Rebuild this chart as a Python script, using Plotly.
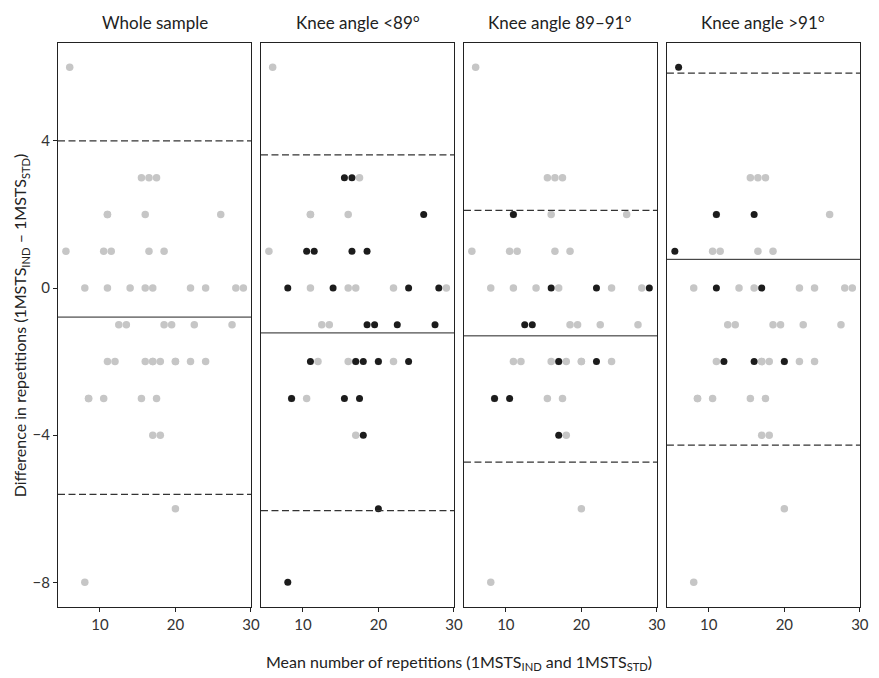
import plotly.graph_objects as go

# ---- data ----
mean_reps = [6, 15.5, 16.5, 17.5, 11, 11, 16, 26, 5.5, 10.5, 11.5, 16.5, 18.5,
             8, 11, 14, 16, 17, 22, 24, 28, 29,
             12.5, 13.5, 18.5, 19.5, 22.5, 27.5,
             11, 12, 16, 17, 17, 18, 20, 20, 22, 24,
             8.5, 8.5, 10.5, 15.5, 17.5,
             17, 18, 20, 8]
diff_reps = [6, 3, 3, 3, 2, 2, 2, 2, 1, 1, 1, 1, 1,
             0, 0, 0, 0, 0, 0, 0, 0, 0,
             -1, -1, -1, -1, -1, -1,
             -2, -2, -2, -2, -2, -2, -2, -2, -2, -2,
             -3, -3, -3, -3, -3,
             -4, -4, -6, -8]
knee_group = ["gt91", "lt89", "lt89", "none", "mid", "gt91", "gt91", "lt89", "gt91", "lt89", "lt89", "lt89", "lt89",
              "lt89", "gt91", "lt89", "mid", "gt91", "mid", "lt89", "lt89", "mid",
              "mid", "mid", "lt89", "lt89", "lt89", "lt89",
              "lt89", "gt91", "gt91", "lt89", "mid", "lt89", "lt89", "gt91", "mid", "lt89",
              "lt89", "mid", "mid", "lt89", "lt89",
              "mid", "lt89", "lt89", "lt89"]

panel_keys = ["all", "lt89", "mid", "gt91"]
panel_titles = ["Whole sample", "Knee angle <89°", "Knee angle 89–91°", "Knee angle >91°"]
bias_line = [-0.79, -1.22, -1.30, 0.78]
upper_loa = [4.0, 3.62, 2.11, 5.84]
lower_loa = [-5.61, -6.05, -4.73, -4.27]

x_ticks = [10, 20, 30]
y_ticks = [4, 0, -4, -8]

# ---- figure ----
# page body has an 8px margin, so the figure is shifted; compensate
OFF = 8
W, H = 879 - OFF, 678 - OFF
L, R, T, B = 58 - OFF, 10, 43 - OFF, 71
plot_w = W - L - R
gap = 10 / plot_w
pw = (1 - 3 * gap) / 4

GREY = "#c6c6c6"
BLACK = "#1c1c1c"
FONT = "Lato"

fig = go.Figure()
layout = {}
for i, key in enumerate(panel_keys):
    xa = "x" if i == 0 else f"x{i+1}"
    ya = "y" if i == 0 else f"y{i+1}"
    if key == "all":
        gx, gy = mean_reps, diff_reps
        bx, by = [], []
    else:
        gx = [x for x, g in zip(mean_reps, knee_group) if g != key]
        gy = [y for y, g in zip(diff_reps, knee_group) if g != key]
        bx = [x for x, g in zip(mean_reps, knee_group) if g == key]
        by = [y for y, g in zip(diff_reps, knee_group) if g == key]
    fig.add_trace(go.Scatter(x=gx, y=gy, mode="markers", xaxis=xa, yaxis=ya,
                             marker=dict(color=GREY, size=7.5, line=dict(width=0)),
                             showlegend=False, hoverinfo="skip"))
    if bx:
        fig.add_trace(go.Scatter(x=bx, y=by, mode="markers", xaxis=xa, yaxis=ya,
                                 marker=dict(color=BLACK, size=7, line=dict(width=0)),
                                 showlegend=False, hoverinfo="skip"))
    d0 = i * (pw + gap)
    d1 = d0 + pw if i < 3 else 1.0
    axis_common = dict(showline=True, mirror=True, linecolor="#222", linewidth=1,
                       showgrid=False, zeroline=False, ticks="outside", ticklen=4,
                       tickcolor="#222", tickfont=dict(family=FONT, size=15, color="#333"))
    layout["xaxis" if i == 0 else f"xaxis{i+1}"] = dict(
        domain=[d0, d1], range=[4.45, 30.02], tickvals=x_ticks, anchor=ya, **axis_common)
    yax = dict(domain=[0, 1], range=[-8.67, 6.66], tickvals=y_ticks, anchor=xa, **axis_common)
    if i > 0:
        yax["showticklabels"] = False
        yax["ticks"] = ""
    layout["yaxis" if i == 0 else f"yaxis{i+1}"] = yax

    xd = xa + " domain"
    fig.add_shape(type="line", xref=xd, yref=ya, x0=0, x1=1, y0=bias_line[i], y1=bias_line[i],
                  line=dict(color="#222", width=1))
    for v in (upper_loa[i], lower_loa[i]):
        fig.add_shape(type="line", xref=xd, yref=ya, x0=0, x1=1, y0=v, y1=v,
                      line=dict(color="#333", width=1.2, dash="7px,3.5px"))
    fig.add_annotation(text=panel_titles[i], xref="paper", yref="paper",
                       x=(d0 + d1) / 2, y=1.036, xanchor="center", yanchor="middle",
                       showarrow=False, font=dict(family=FONT, size=17, color="#222"))

fig.add_annotation(text="Mean number of repetitions (1MSTS<sub>IND</sub> and 1MSTS<sub>STD</sub>)",
                   xref="paper", yref="paper", x=0.5, y=-0.099, xanchor="center", yanchor="middle",
                   showarrow=False, font=dict(family=FONT, size=16, color="#222"))
fig.add_annotation(text="Difference in repetitions (1MSTS<sub>IND</sub> – 1MSTS<sub>STD</sub>)",
                   xref="paper", yref="paper", x=-0.047 * 811 / plot_w, y=0.5,
                   xanchor="center", yanchor="middle",
                   textangle=-90, showarrow=False, font=dict(family=FONT, size=16, color="#222"))

fig.update_layout(width=W, height=H, margin=dict(l=L, r=R, t=T, b=B),
                  plot_bgcolor="white", paper_bgcolor="white", **layout)
fig.write_html("out.html")
